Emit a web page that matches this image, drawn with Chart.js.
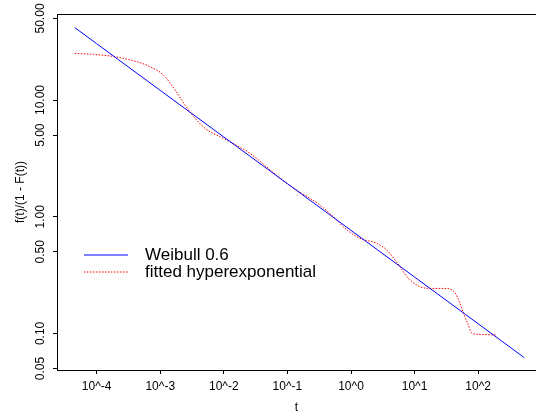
<!DOCTYPE html>
<html>
<head>
<meta charset="utf-8">
<script src="https://cdn.jsdelivr.net/npm/chart.js@4/dist/chart.umd.min.js"></script>
<style>
  html, body { margin: 0; padding: 0; background: #fff; }
  canvas { display: block; }
</style>
</head>
<body>
<canvas id="c" width="536" height="417"></canvas>
<script>
// Hazard rate of a Weibull(0.6) lifetime and of its fitted hyperexponential
const weibullT      = [4.52e-5, 1e-4, 1e-3, 1e-2, 1e-1, 1, 10, 100, 531];
const weibullHazard = [41.8, 30.4, 12.1, 4.82, 1.92, 0.764, 0.304, 0.121, 0.062];

const fitT = [4.53e-5, 8.87e-5, 1.95e-4, 4.28e-4, 6.92e-4, 1.12e-3, 1.71e-3, 2.45e-3,
              3.31e-3, 5.06e-3, 8.71e-3, 0.0133, 0.0258, 0.0501, 0.0766, 0.140,
              0.226, 0.324, 0.527, 0.805, 1.38, 2.54, 3.64, 4.92, 5.89, 7.96,
              12.2, 18.6, 30.1, 43.2, 51.8, 58.3, 69.8, 79.1, 107, 200];
const fitHazard = [25.1, 24.6, 23.5, 21.3, 19.3, 16.4, 12.2, 9.06,
                   7.28, 5.72, 4.85, 4.31, 3.49, 2.60, 2.13, 1.69,
                   1.44, 1.26, 1.00, 0.796, 0.653, 0.592, 0.519, 0.426, 0.373, 0.297,
                   0.251, 0.243, 0.243, 0.223, 0.181, 0.150, 0.118, 0.101, 0.098, 0.097];

const xTickValues = [1e-4, 1e-3, 1e-2, 1e-1, 1, 10, 100];
const xTickLabels = ['10^-4', '10^-3', '10^-2', '10^-1', '10^0', '10^1', '10^2'];
const yTickValues = [0.05, 0.1, 0.5, 1, 5, 10, 50];
const yTickLabels = ['0.05', '0.10', '0.50', '1.00', '5.00', '10.00', '50.00'];

const seriesNames = ['Weibull 0.6', 'fitted hyperexponential'];
const seriesColors = ['#0000ff', '#ff0000'];
const seriesDashes = [[], [1.5, 1.5]];

const toPoints = (xs, ys) => xs.map((x, i) => ({ x: x, y: ys[i] }));

Chart.defaults.font.family = "'Liberation Sans', Arial, Helvetica, sans-serif";
Chart.defaults.color = '#000';

// top edge of the plot box
const boxTop = {
  id: 'boxTop',
  afterDraw(chart) {
    const { ctx, chartArea } = chart;
    ctx.save();
    ctx.strokeStyle = '#000';
    ctx.lineWidth = 1;
    ctx.beginPath();
    ctx.moveTo(chartArea.left, chartArea.top + 0.5);
    ctx.lineTo(chart.width, chartArea.top + 0.5);
    ctx.stroke();
    ctx.restore();
  }
};

// legend placed inside the plotting region
const innerLegend = {
  id: 'innerLegend',
  afterDraw(chart) {
    const { ctx } = chart;
    const rows = [255, 272];
    ctx.save();
    ctx.font = "17px 'Liberation Sans', Arial, sans-serif";
    ctx.textBaseline = 'middle';
    ctx.textAlign = 'left';
    seriesNames.forEach((name, i) => {
      const y = rows[i];
      ctx.strokeStyle = seriesColors[i];
      ctx.lineWidth = 1;
      ctx.setLineDash(seriesDashes[i]);
      ctx.beginPath();
      ctx.moveTo(84, y);
      ctx.lineTo(128, y);
      ctx.stroke();
      ctx.setLineDash([]);
      ctx.fillStyle = '#000';
      ctx.fillText(name, 145, rows[i]);
    });
    ctx.restore();
  }
};

new Chart(document.getElementById('c'), {
  type: 'line',
  data: {
    datasets: [
      {
        label: seriesNames[0],
        data: toPoints(weibullT, weibullHazard),
        borderColor: seriesColors[0],
        borderWidth: 1,
        pointRadius: 0,
        tension: 0
      },
      {
        label: seriesNames[1],
        data: toPoints(fitT, fitHazard),
        borderColor: seriesColors[1],
        borderWidth: 1,
        borderDash: seriesDashes[1],
        pointRadius: 0,
        cubicInterpolationMode: 'monotone'
      }
    ]
  },
  options: {
    responsive: false,
    devicePixelRatio: 1,
    animation: false,
    layout: { padding: { top: 14, right: 0, left: 0, bottom: 0 } },
    plugins: { legend: { display: false }, tooltip: { enabled: false } },
    scales: {
      x: {
        type: 'logarithmic',
        min: 2.38e-5,
        max: 811,
        afterBuildTicks: s => { s.ticks = xTickValues.map(v => ({ value: v })); },
        afterFit: s => { s.height = 47; },
        ticks: {
          autoSkip: false,
          maxRotation: 0,
          padding: 5,
          font: { size: 12 },
          callback: (v, i) => xTickLabels[i]
        },
        grid: { drawOnChartArea: false, drawTicks: true, tickLength: 4, color: '#000' },
        border: { display: true, color: '#000', width: 1 },
        title: { display: true, text: 't', font: { size: 12 }, padding: { top: 0, bottom: 2 } }
      },
      y: {
        type: 'logarithmic',
        min: 0.0486,
        max: 54.6,
        afterBuildTicks: s => { s.ticks = yTickValues.map(v => ({ value: v })); },
        afterFit: s => { s.width = 57; },
        ticks: {
          autoSkip: false,
          minRotation: 90,
          maxRotation: 90,
          crossAlign: 'center',
          padding: -3,
          font: { size: 12 },
          callback: (v, i) => yTickLabels[i]
        },
        grid: { drawOnChartArea: false, drawTicks: true, tickLength: 4, color: '#000' },
        border: { display: true, color: '#000', width: 1 },
        title: { display: true, text: 'f(t)/(1 - F(t))', font: { size: 12 }, padding: { top: 13, bottom: 0 } }
      }
    }
  },
  plugins: [boxTop, innerLegend]
});
</script>
</body>
</html>
